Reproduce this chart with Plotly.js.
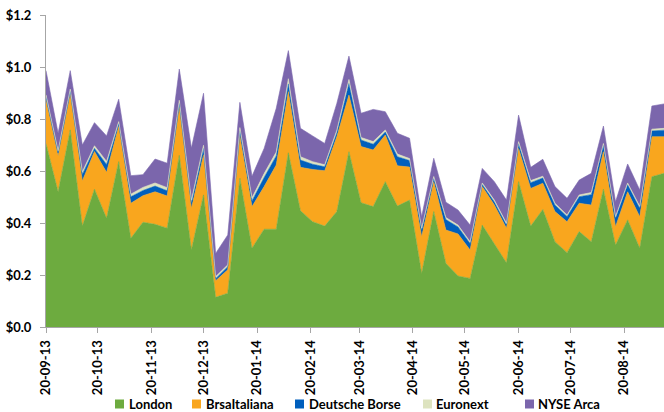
<!DOCTYPE html>
<html>
<head>
<meta charset="utf-8">
<script src="https://cdn.plot.ly/plotly-3.0.1.min.js"></script>
<style>
  html, body { margin: 0; padding: 0; background: #fff; }
  #chart { width: 664px; height: 412px; }
</style>
</head>
<body>
<div id="chart"></div>
<script>
const dates = ['2013-09-20','2013-09-27','2013-10-04','2013-10-11','2013-10-18','2013-10-25','2013-11-01','2013-11-08','2013-11-15','2013-11-22','2013-11-29','2013-12-06','2013-12-13','2013-12-20','2013-12-27',
  '2014-01-03','2014-01-10','2014-01-17','2014-01-24','2014-01-31','2014-02-07','2014-02-14','2014-02-21','2014-02-28','2014-03-07','2014-03-14','2014-03-21','2014-03-28',
  '2014-04-04','2014-04-11','2014-04-18','2014-04-25','2014-05-02','2014-05-09','2014-05-16','2014-05-23','2014-05-30','2014-06-06','2014-06-13','2014-06-20','2014-06-27',
  '2014-07-04','2014-07-11','2014-07-18','2014-07-25','2014-08-01','2014-08-08','2014-08-15','2014-08-22','2014-08-29','2014-09-05','2014-09-12'];

const london = [.705,.52,.758,.388,.53,.418,.636,.341,.403,.395,.38,.66,.296,.508,.114,.13,.572,.303,.376,.376,.67,.447,.405,.388,.444,.674,.478,.463,.559,.465,.488,.206,.444,.245,.196,.187,.392,.322,.247,.559,.388,.452,.328,.286,.367,.328,.53,.315,.412,.303,.578,.591];
const brsaItaliana = [.168,.138,.137,.174,.145,.177,.136,.135,.102,.125,.124,.185,.16,.154,.064,.09,.163,.16,.164,.247,.235,.167,.201,.213,.288,.218,.216,.218,.179,.155,.127,.141,.115,.128,.162,.109,.148,.147,.133,.128,.145,.101,.116,.119,.109,.141,.144,.071,.108,.121,.154,.141];
const deutscheBorse = [.012,.012,.012,.025,.012,.03,.01,.025,.02,.022,.02,.015,.02,.025,.008,.012,.02,.022,.035,.035,.03,.028,.02,.015,.015,.045,.025,.022,.012,.035,.025,.025,.012,.04,.027,.025,.008,.012,.012,.018,.022,.02,.025,.02,.025,.04,.025,.032,.027,.033,.022,.025];
const euronext = [.008,.008,.008,.01,.01,.012,.008,.01,.012,.012,.012,.012,.012,.012,.008,.007,.012,.012,.015,.015,.02,.013,.01,.008,.01,.015,.01,.01,.008,.01,.008,.008,.008,.008,.007,.007,.006,.007,.007,.008,.008,.007,.007,.006,.007,.008,.007,.007,.007,.007,.007,.007];
const nyseArca = [.093,.067,.071,.103,.089,.098,.086,.071,.049,.092,.094,.12,.20,.20,.089,.115,.097,.083,.097,.168,.108,.109,.099,.082,.103,.09,.093,.124,.07,.08,.078,.044,.07,.059,.058,.064,.056,.071,.089,.102,.051,.065,.064,.064,.057,.074,.067,.057,.073,.063,.089,.094];

const tickDates = ['2013-09-20','2013-10-20','2013-11-20','2013-12-20','2014-01-20','2014-02-20','2014-03-20','2014-04-20','2014-05-20','2014-06-20','2014-07-20','2014-08-20'];
const tickLabels = ['20-09-13','20-10-13','20-11-13','20-12-13','20-01-14','20-02-14','20-03-14','20-04-14','20-05-14','20-06-14','20-07-14','20-08-14'];

const seriesNames = ['London','BrsaItaliana','Deutsche Borse','Euronext','NYSE Arca'];
const seriesValues = [london, brsaItaliana, deutscheBorse, euronext, nyseArca];
const colors = ['#6DAB3F','#F9A61E','#005FBD','#DDE3BF','#7B66AC'];

const font = 'Lato, "Open Sans", Arial, sans-serif';

// plot-area geometry (pixels) used for the hand-placed legend
const M = {l: 46, r: 0, t: 15, b: 85};
const W = 664, H = 412;
const pw = W - M.l - M.r, ph = H - M.t - M.b;
const px = v => (v - M.l) / pw;
const py = v => (H - M.b - v) / ph;
const legendSquareX = [115, 192, 295, 423, 525];
const legendTextX = [127, 204, 307, 434, 536];
const legendY = 404;

const traces = seriesValues.map((vals, k) => ({
  x: dates, y: vals, type: 'scatter', mode: 'lines',
  stackgroup: 'one', name: seriesNames[k],
  line: {width: 0.6, color: colors[k]}, fillcolor: colors[k],
  showlegend: false, hoverinfo: 'x+y+name'
}));

const shapes = seriesNames.map((n, k) => ({
  type: 'rect', xref: 'paper', yref: 'paper',
  x0: px(legendSquareX[k]), x1: px(legendSquareX[k] + 9),
  y0: py(legendY - 4.5), y1: py(legendY + 4.5),
  fillcolor: colors[k], line: {width: 0}
}));
const annotations = seriesNames.map((n, k) => ({
  text: n, xref: 'paper', yref: 'paper', x: px(legendTextX[k]), y: py(legendY),
  xanchor: 'left', yanchor: 'middle', showarrow: false,
  font: {family: font, size: 13, color: '#000', weight: 'bold'}
}));

const layout = {
  width: W, height: H,
  margin: {l: M.l, r: M.r, t: M.t, b: M.b, autoexpand: false},
  paper_bgcolor: '#fff', plot_bgcolor: '#fff',
  font: {family: font, size: 13, color: '#000'},
  showlegend: false,
  shapes: shapes, annotations: annotations,
  xaxis: {
    type: 'date', range: ['2013-09-20', '2014-09-12'], automargin: false,
    tickmode: 'array', tickvals: tickDates, ticktext: tickLabels, tickangle: -90,
    showgrid: false, zeroline: false, showline: true, linecolor: '#A6A6A6', linewidth: 1,
    ticks: 'outside', ticklen: 5, tickcolor: '#A6A6A6', ticklabelstandoff: 2,
    tickfont: {family: font, size: 13, color: '#000', weight: 'bold'}
  },
  yaxis: {
    range: [0, 1.2], dtick: 0.2, tickformat: '.1f', tickprefix: '$', automargin: false,
    showgrid: false, zeroline: false, showline: true, linecolor: '#A6A6A6', linewidth: 1,
    ticks: 'outside', ticklen: 5, tickcolor: '#A6A6A6', ticklabelstandoff: 6,
    tickfont: {family: font, size: 13, color: '#000', weight: 'bold'}
  }
};

Plotly.newPlot('chart', traces, layout, {displayModeBar: false, staticPlot: true});
</script>
</body>
</html>
